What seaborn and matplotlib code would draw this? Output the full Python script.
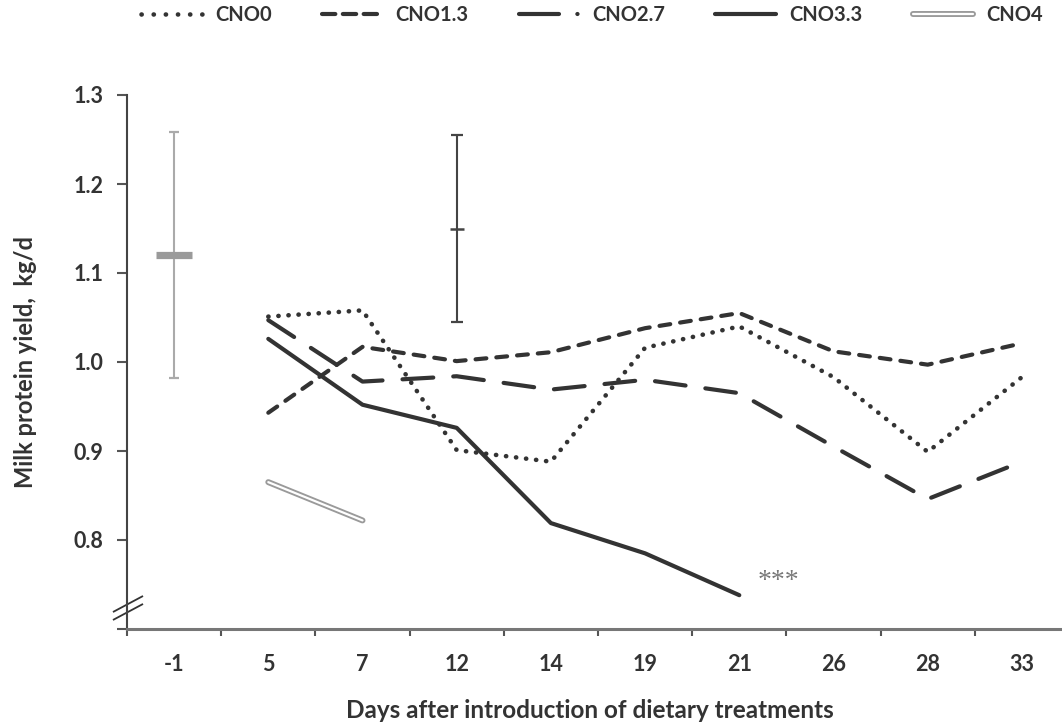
import matplotlib
matplotlib.use('Agg')
import matplotlib.pyplot as plt
import matplotlib.patheffects as pe
from matplotlib.lines import Line2D

import numpy as np
import pandas as pd
import seaborn as sns

# days after introduction of the diets (categorical axis)
days = ['-1', '5', '7', '12', '14', '19', '21', '26', '28', '33']
nan = np.nan

# milk protein yield, kg/d
cno0 = [nan, 1.051, 1.058, 0.901, 0.888, 1.016, 1.040, 0.983, 0.899, 0.983]
cno13 = [nan, 0.943, 1.017, 1.001, 1.011, 1.038, 1.055, 1.012, 0.997, 1.021]
cno27 = [nan, 1.047, 0.978, 0.984, 0.969, 0.980, 0.965, 0.905, 0.846, 0.888]
cno33 = [nan, 1.026, 0.952, 0.926, 0.819, 0.785, 0.738, nan, nan, nan]
cno4 = [nan, 0.865, 0.822, nan, nan, nan, nan, nan, nan, nan]
series_names = ['CNO0', 'CNO1.3', 'CNO2.7', 'CNO3.3', 'CNO4']

# error bars (day, centre, low, high)
eb_days = ['-1', '12']
eb_centre = [1.12, 1.15]
eb_low = [0.982, 1.045]
eb_high = [1.258, 1.255]

yticks = [0.7, 0.8, 0.9, 1.0, 1.1, 1.2, 1.3]
ytick_labels = ['', '0.8', '0.9', '1.0', '1.1', '1.2', '1.3']

INK = '#333333'


def make_frame():
    """Long-form frame for seaborn."""
    rows = []
    for name, vals in zip(series_names, [cno0, cno13, cno27, cno33, cno4]):
        for i, v in enumerate(vals):
            if not np.isnan(v):
                rows.append((name, i, v))
    return pd.DataFrame(rows, columns=['series', 'pos', 'protein'])


def main():
    sns.set_style('ticks')
    plt.rcParams['font.family'] = ['Lato', 'DejaVu Sans']
    plt.rcParams['font.weight'] = 'bold'
    plt.rcParams['lines.dash_capstyle'] = 'round'
    plt.rcParams['lines.solid_capstyle'] = 'round'
    plt.rcParams['text.color'] = INK

    fig = plt.figure(figsize=(10.62, 7.25), dpi=100)
    ax = fig.add_axes([127 / 1062, 96 / 725, 942 / 1062, 534 / 725])

    df = make_frame()
    lw = 3.0
    styles = {
        'CNO0': dict(lw=3.3, dashes=(0.05, 2.15)),
        'CNO1.3': dict(lw=lw, dashes=(2.6, 2.4)),
        'CNO2.7': dict(lw=lw, dashes=(7.4, 4.8)),
        'CNO3.3': dict(lw=lw, dashes=''),
    }
    for name in series_names:
        sub = df[df.series == name]
        if name == 'CNO4':
            sns.lineplot(data=sub, x='pos', y='protein', color='white', lw=1.6, ax=ax,
                         legend=False)
            ax.lines[-1].set_path_effects([pe.Stroke(linewidth=4.3, foreground='#9a9a9a'),
                                           pe.Normal()])
        else:
            sns.lineplot(data=sub, x='pos', y='protein', color=INK, lw=styles[name]['lw'],
                         ax=ax, legend=False)
            if styles[name]['dashes']:
                ax.lines[-1].set_dashes(styles[name]['dashes'])

    # error bars
    eb_style = [dict(col='#aaaaaa', cap=3.6, mark='#9a9a9a', ms=26, mew=5.2),
                dict(col='#444444', cap=4.3, mark='#444444', ms=9.5, mew=1.8)]
    for d, c, lo, hi, st in zip(eb_days, eb_centre, eb_low, eb_high, eb_style):
        p = days.index(d)
        ax.errorbar([p], [c], yerr=[[c - lo], [hi - c]], fmt='none', ecolor=st['col'],
                    elinewidth=1.5, capsize=st['cap'], capthick=1.6)
        ax.plot([p], [c], marker='_', ms=st['ms'], mew=st['mew'], color=st['mark'])

    # significance stars next to CNO3.3
    ax.text(6.2, 0.753, '***', family=['Liberation Serif', 'DejaVu Serif'],
            fontweight='normal', fontsize=20, color='#777777', va='center', ha='left')

    # axes
    ax.set_xlim(-0.5, 9.5)
    ax.set_ylim(0.7, 1.3)
    ax.set_xticks(range(len(days)))
    ax.set_xticklabels(days)
    ax.set_xticks(np.arange(-0.5, len(days), 1.0), minor=True)
    ax.tick_params(axis='x', which='major', length=0, pad=18, labelsize=15.5, labelcolor=INK)
    ax.tick_params(axis='x', which='minor', length=5, width=1.5, color='#555555',
                   direction='out')
    ax.set_yticks(yticks)
    ax.set_yticklabels(ytick_labels)
    ax.tick_params(axis='y', length=7, width=1.5, color='#555555', pad=10,
                   labelsize=15.5, labelcolor=INK)
    sns.despine(ax=ax)
    ax.spines['left'].set_color('#444444')
    ax.spines['left'].set_linewidth(1.5)
    ax.spines['bottom'].set_color('#777777')
    ax.spines['bottom'].set_linewidth(2.2)

    ax.set_xlabel('Days after introduction of dietary treatments', fontsize=17.5,
                  fontweight='bold', color=INK)
    ax.xaxis.label.set_va('center')
    ax.xaxis.set_label_coords(0.4915, -0.152)
    ax.set_ylabel('Milk protein yield,  kg/d', fontsize=17, fontweight='bold', color=INK)
    ax.yaxis.label.set_va('center')
    ax.yaxis.set_label_coords(-0.108, 0.5)

    # axis break marks
    for y0 in (0.0169, 0.0318):
        ax.plot([-0.0149, 0.017], [y0, y0 + 0.030], transform=ax.transAxes, clip_on=False,
                color=INK, lw=1.3, solid_capstyle='butt')

    # legend across the top
    handles = [
        Line2D([], [], color=INK, lw=3.3, dashes=(0.05, 2.6)),
        Line2D([], [], color=INK, lw=lw, dashes=(3.2, 1.8)),
        Line2D([], [], color=INK, lw=lw, dashes=(9.6, 4.4, 0.05, 20)),
        Line2D([], [], color=INK, lw=lw),
        Line2D([], [], color='white', lw=1.6,
               path_effects=[pe.Stroke(linewidth=4.3, foreground='#9a9a9a'), pe.Normal()]),
    ]
    fig.legend(handles, series_names, loc='center', bbox_to_anchor=(592 / 1062, 1 - 15 / 725),
               ncol=5, frameon=False, handlelength=3.0, handletextpad=0.65,
               columnspacing=2.5, prop={'weight': 'bold', 'size': 14.5})

    fig.savefig('out.png', dpi=100)


if __name__ == '__main__':
    main()
